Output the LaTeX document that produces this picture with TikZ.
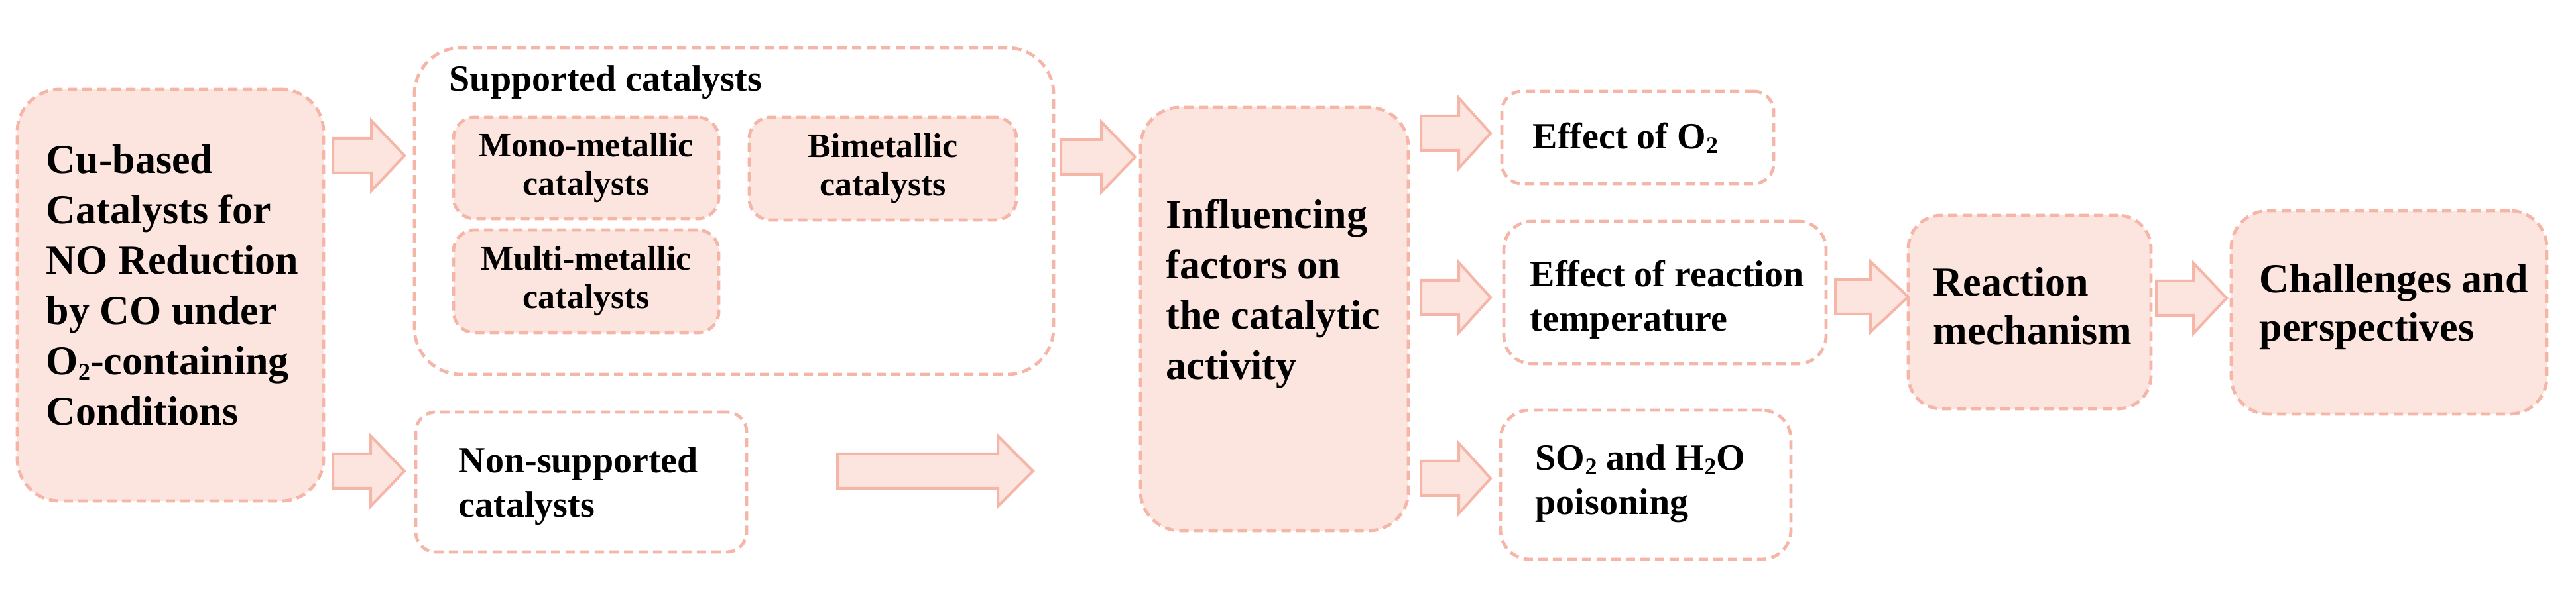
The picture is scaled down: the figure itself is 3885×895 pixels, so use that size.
\documentclass[tikz,border=0pt]{standalone}
\usepackage{fontspec}
\setmainfont{Liberation Serif}
\definecolor{pk}{RGB}{252,228,223}
\definecolor{sal}{RGB}{245,182,168}
\newcommand\myfs[2]{\fontsize{#1}{#2}\selectfont\bfseries}
\newcommand\sbt[1]{\raisebox{-0.28ex}{\fontsize{9}{9}\selectfont\bfseries #1}}
\newcommand\blockarr[4]{%
  \draw[barrow] (#1,#3-26) -- (#2-#4,#3-26) -- (#2-#4,#3-53) -- (#2,#3) -- (#2-#4,#3+53) -- (#2-#4,#3+26) -- (#1,#3+26) -- cycle;}
\begin{document}
\begin{tikzpicture}[x=0.25pt,y=-0.25pt,
  box/.style={draw=sal, line width=1.2pt, dash pattern=on 3.5pt off 2pt, inner sep=0pt},
  pinkbox/.style={box, fill=pk},
  whitebox/.style={box, fill=white},
  barrow/.style={draw=sal, fill=pk, line width=1pt, line join=miter},
  txt/.style={inner sep=0pt, align=left, anchor=north west}]
\fill[white] (0,0) rectangle (3885,895);
\useasboundingbox (0,0) rectangle (3885,895);

% boxes
\node[pinkbox, rounded corners=16pt, minimum width=115.5pt, minimum height=155.25pt] (cu) at (257,445.5) {};
\node[whitebox, rounded corners=17.5pt, minimum width=241pt, minimum height=123.25pt] (sup) at (1107,318.5) {};
\node[pinkbox, rounded corners=8pt, minimum width=100pt, minimum height=38.25pt, align=center, font=\myfs{13}{14.5}] (mono) at (884,253.5) {Mono-metallic\\catalysts};
\node[pinkbox, rounded corners=8pt, minimum width=100.75pt, minimum height=38.75pt, align=center, font=\myfs{13}{14.5}] (bi) at (1331.5,254.5) {Bimetallic\\catalysts};
\node[pinkbox, rounded corners=8pt, minimum width=100pt, minimum height=38.75pt, align=center, font=\myfs{13}{14.5}] (multi) at (884,424.5) {Multi-metallic\\catalysts};
\node[whitebox, rounded corners=7.5pt, minimum width=124.75pt, minimum height=52.75pt] (non) at (876.5,727.5) {};
\node[pinkbox, rounded corners=15pt, minimum width=101pt, minimum height=159.75pt] (inf) at (1922,481.5) {};
\node[whitebox, rounded corners=7.5pt, minimum width=102.5pt, minimum height=34.75pt] (otwo) at (2470,207.5) {};
\node[whitebox, rounded corners=10.5pt, minimum width=121.5pt, minimum height=53.75pt] (temp) at (2511,441.5) {};
\node[whitebox, rounded corners=11pt, minimum width=109.5pt, minimum height=56.25pt] (sotwo) at (2482,731.5) {};
\node[pinkbox, rounded corners=12.5pt, minimum width=91.5pt, minimum height=73pt] (mech) at (3061,471) {};
\node[pinkbox, rounded corners=14pt, minimum width=119pt, minimum height=76.75pt] (chal) at (3603,471.5) {};

% texts
\node[txt, font=\myfs{15.5}{19}] (cut) at (69,218) {Cu-based\\Catalysts for\\NO Reduction\\by CO under\\O\sbt{2}-containing\\Conditions};
\node[txt, font=\myfs{14}{16.75}] (supt) at (677,98) {Supported catalysts};
\node[txt, font=\myfs{14}{16.75}] (nont) at (691,674) {Non-supported\\catalysts};
\node[txt, font=\myfs{15.5}{19}] (inft) at (1758,300) {Influencing\\factors on\\the catalytic\\activity};
\node[txt, font=\myfs{14}{16.75}] (otwot) at (2311,184) {Effect of O\sbt{2}};
\node[txt, font=\myfs{14}{16.75}] (tempt) at (2307,392) {Effect of reaction\\temperature};
\node[txt, font=\myfs{14}{16.75}] (sotwot) at (2315,670) {SO\sbt{2} and H\sbt{2}O\\poisoning};
\node[txt, font=\myfs{15.5}{18.25}] (mecht) at (2915,403) {Reaction\\mechanism};
\node[txt, font=\myfs{15.5}{18.25}] (chalt) at (3407,398) {Challenges and\\perspectives};

% block arrows
\blockarr{502}{610}{235}{50}
\blockarr{502}{610}{711}{51}
\blockarr{1263}{1558}{711}{53}
\blockarr{1600}{1712}{237}{51}
\blockarr{2143}{2248}{201}{48}
\blockarr{2143}{2248}{449}{48}
\blockarr{2143}{2248}{722}{48}
\blockarr{2768}{2878}{448}{57}
\blockarr{3252}{3358}{450}{50}
\end{tikzpicture}
\end{document}
